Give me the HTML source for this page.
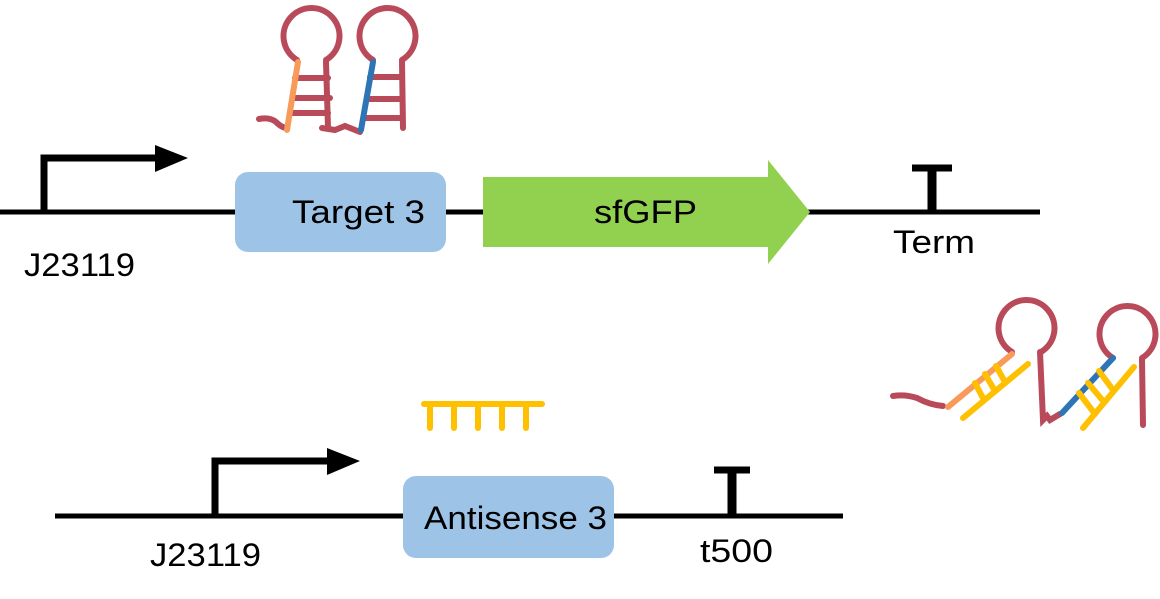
<!DOCTYPE html>
<html><head><style>body{margin:0;background:#fff}svg{display:block}text{font-family:"Liberation Sans",sans-serif;font-size:32px;fill:#000}</style></head>
<body>
<svg width="1160" height="599" viewBox="0 0 1160 599" xmlns="http://www.w3.org/2000/svg">
<g stroke="#000" stroke-width="5" fill="none">
<line x1="0" y1="212" x2="1040" y2="212"/>
<polyline points="44,212 44,158 160,158" stroke-width="7"/>
<line x1="932" y1="212" x2="932" y2="168" stroke-width="9"/>
<line x1="912" y1="168" x2="952" y2="168" stroke-width="7"/>
<line x1="55" y1="516" x2="843" y2="516"/>
<polyline points="215,516 215,461 332,461" stroke-width="7"/>
<line x1="732" y1="516" x2="732" y2="470" stroke-width="9"/>
<line x1="714" y1="470" x2="750" y2="470" stroke-width="7"/>
</g>
<polygon points="155,145 188,158 155,172" fill="#000"/>
<polygon points="327,448 360,461 327,475" fill="#000"/>
<rect x="235" y="172" width="211" height="80" rx="13" fill="#9DC3E6"/>
<rect x="403" y="476" width="211" height="82" rx="13" fill="#9DC3E6"/>
<polygon points="483,177 768,177 768,160 810,212 768,264 768,247 483,247" fill="#92D050"/>
<text x="292" y="223" textLength="133" lengthAdjust="spacingAndGlyphs">Target 3</text>
<text x="594" y="223" textLength="103" lengthAdjust="spacingAndGlyphs">sfGFP</text>
<text x="424" y="529" textLength="183" lengthAdjust="spacingAndGlyphs">Antisense 3</text>
<text x="24" y="276" textLength="111" lengthAdjust="spacingAndGlyphs">J23119</text>
<text x="893" y="253" textLength="82" lengthAdjust="spacingAndGlyphs">Term</text>
<text x="150" y="566" textLength="111" lengthAdjust="spacingAndGlyphs">J23119</text>
<text x="700" y="562" textLength="73" lengthAdjust="spacingAndGlyphs">t500</text>
<g fill="none" stroke-width="6" stroke-linecap="round">
<g stroke="#B84A5A">
<path d="M297,60 A28,28 0 1 1 326,60"/>
<line x1="326" y1="62" x2="328" y2="128"/>
<line x1="295" y1="78" x2="328" y2="78"/><line x1="293" y1="98" x2="330" y2="98"/><line x1="291" y1="113" x2="328" y2="113"/>
<path d="M259,119 Q270,117 276,122 Q282,128 287,128"/>
<path d="M322,128 L335,130 L345,126 L360,132"/>
<path d="M373,60 A28,28 0 1 1 402,60"/>
<line x1="402" y1="62" x2="403" y2="128"/>
<line x1="370" y1="77" x2="402" y2="77"/><line x1="367" y1="99" x2="402" y2="99"/><line x1="365" y1="118" x2="402" y2="118"/>
</g>
<line x1="298" y1="62" x2="287" y2="130" stroke="#F79A5A"/>
<line x1="373" y1="62" x2="361" y2="130" stroke="#2E75B6"/>
<g stroke="#FFC000">
<line x1="424" y1="404" x2="542" y2="404"/>
<line x1="430" y1="404" x2="430" y2="428"/><line x1="454" y1="404" x2="454" y2="428"/><line x1="478" y1="404" x2="478" y2="428"/><line x1="502" y1="404" x2="502" y2="428"/><line x1="526" y1="404" x2="526" y2="428"/>
</g>
<g stroke="#B84A5A">
<path d="M1012,352 A28,28 0 1 1 1041,352"/>
<path d="M1040,352 L1043,420 L1047,416 L1050,420 L1060,414"/>
<path d="M893,396 Q905,394 917,398 Q930,405 943,406"/>
<path d="M1113,358 A28,28 0 1 1 1142,358"/>
<line x1="1142" y1="360" x2="1143" y2="425"/>
</g>
<line x1="1012" y1="354" x2="948" y2="407" stroke="#F79A5A"/>
<line x1="1113" y1="358" x2="1062" y2="413" stroke="#2E75B6"/>
<g stroke="#FFC000">
<line x1="1028" y1="364" x2="963" y2="418"/>
<line x1="975" y1="383" x2="984" y2="400"/><line x1="985" y1="374" x2="995" y2="391"/><line x1="996" y1="366" x2="1005" y2="382"/>
<line x1="1134" y1="367" x2="1083" y2="428"/>
<line x1="1079" y1="393" x2="1095" y2="414"/><line x1="1088" y1="383" x2="1104" y2="402"/><line x1="1099" y1="371" x2="1113" y2="390"/>
</g>
</g>
</svg>
</body></html>
